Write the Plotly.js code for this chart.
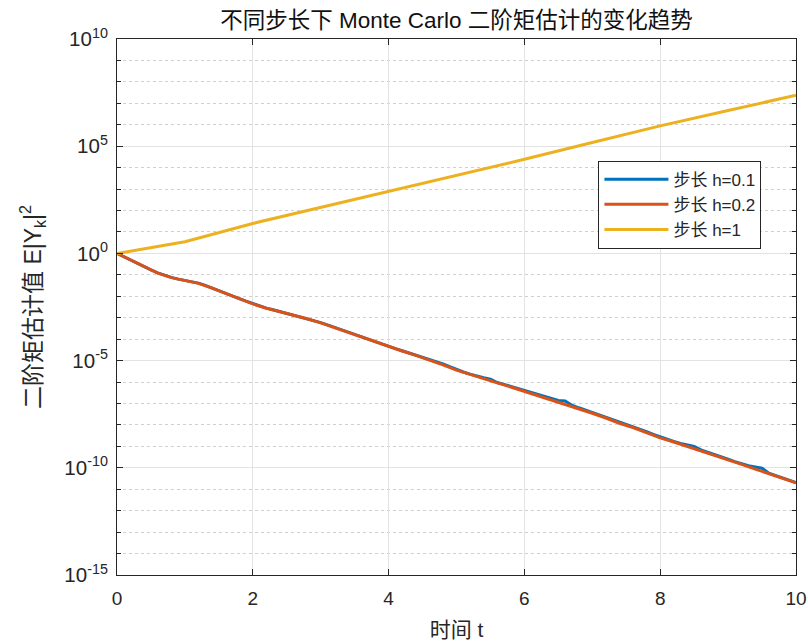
<!DOCTYPE html>
<html>
<head>
<meta charset="utf-8">
<script src="https://cdn.plot.ly/plotly-3.0.1.min.js"></script>
<style>html,body{margin:0;padding:0;background:#fff;}#chart{width:808px;height:642px;}</style>
</head>
<body>
<div id="chart"></div>
<script>
// time grids
const t01 = [0,0.1,0.2,0.3,0.4,0.5,0.6,0.7,0.8,0.9,1,1.1,1.2,1.3,1.4,1.5,1.6,1.7,1.8,1.9,2,2.1,2.2,2.3,2.4,2.5,2.6,2.7,2.8,2.9,3,3.1,3.2,3.3,3.4,3.5,3.6,3.7,3.8,3.9,4,4.1,4.2,4.3,4.4,4.5,4.6,4.7,4.8,4.9,5,5.1,5.2,5.3,5.4,5.5,5.6,5.7,5.8,5.9,6,6.1,6.2,6.3,6.4,6.5,6.6,6.7,6.8,6.9,7,7.1,7.2,7.3,7.4,7.5,7.6,7.7,7.8,7.9,8,8.1,8.2,8.3,8.4,8.5,8.6,8.7,8.8,8.9,9,9.1,9.2,9.3,9.4,9.5,9.6,9.7,9.8,9.9,10];
const t02 = [0,0.2,0.4,0.6,0.8,1,1.2,1.4,1.6,1.8,2,2.2,2.4,2.6,2.8,3,3.2,3.4,3.6,3.8,4,4.2,4.4,4.6,4.8,5,5.2,5.4,5.6,5.8,6,6.2,6.4,6.6,6.8,7,7.2,7.4,7.6,7.8,8,8.2,8.4,8.6,8.8,9,9.2,9.4,9.6,9.8,10];
const t1 = [0,1,2,3,4,5,6,7,8,9,10];

// estimated second moments E|Y_k|^2
const ey_h01 = [1,6.9e-1,4.8e-1,3.4e-1,2.4e-1,1.7e-1,1.23e-1,9.3e-2,7.6e-2,6.3e-2,5.5e-2,4.8e-2,4.1e-2,3.2e-2,2.45e-2,1.8e-2,1.38e-2,1.02e-2,7.8e-3,5.9e-3,4.5e-3,3.5e-3,2.8e-3,2.35e-3,1.95e-3,1.62e-3,1.35e-3,1.1e-3,9.1e-4,7.4e-4,5.9e-4,4.6e-4,3.55e-4,2.7e-4,2.05e-4,1.58e-4,1.23e-4,9.8e-5,7.8e-5,6.0e-5,4.7e-5,3.6e-5,2.9e-5,2.3e-5,1.82e-5,1.45e-5,1.15e-5,8.9e-6,7.1e-6,5.2e-6,3.8e-6,2.95e-6,2.35e-6,1.86e-6,1.58e-6,1.35e-6,9.5e-7,7.8e-7,6.3e-7,5.0e-7,4.0e-7,3.2e-7,2.5e-7,2.0e-7,1.62e-7,1.38e-7,1.32e-7,8.3e-8,6.3e-8,4.9e-8,3.8e-8,2.95e-8,2.3e-8,1.74e-8,1.32e-8,1.02e-8,8.1e-9,6.3e-9,4.8e-9,3.6e-9,2.75e-9,2.15e-9,1.7e-9,1.38e-9,1.17e-9,1.0e-9,6.8e-10,5.2e-10,4.2e-10,3.2e-10,2.5e-10,1.95e-10,1.55e-10,1.26e-10,1.1e-10,9.5e-11,5.6e-11,4.4e-11,3.4e-11,2.6e-11,2.04e-11];
const ey_h02 = [1,4.8e-1,2.4e-1,1.2e-1,7.4e-2,5.4e-2,4.0e-2,2.4e-2,1.35e-2,7.6e-3,4.4e-3,2.75e-3,1.9e-3,1.32e-3,8.9e-4,5.75e-4,3.47e-4,2.0e-4,1.2e-4,7.6e-5,4.6e-5,2.8e-5,1.74e-5,1.07e-5,6.3e-6,3.6e-6,2.24e-6,1.41e-6,9.1e-7,5.9e-7,3.7e-7,2.3e-7,1.45e-7,9.3e-8,5.6e-8,3.5e-8,2.1e-8,1.2e-8,7.6e-9,4.4e-9,2.5e-9,1.6e-9,1.0e-9,6.3e-10,4.0e-10,2.4e-10,1.45e-10,8.7e-11,5.2e-11,3.2e-11,2.0e-11];
const ey_h1 = [1,3.5,25,138,760,4300,24500,1.48e5,8.9e5,4.6e6,2.4e7];

const names = ['步长 h=0.1','步长 h=0.2','步长 h=1'];
const colors = ['#0072BD','#D95319','#EDB120'];

// y tick labels
const yTickVals = [1e-15,1e-10,1e-5,1,1e5,1e10];
const yTickText = ['10<sup>-15</sup>','10<sup>-10</sup>','10<sup>-5</sup>','10<sup>0</sup>','10<sup>5</sup>','10<sup>10</sup>'];
const yMinorVals = [1e-14,1e-13,1e-12,1e-11,1e-9,1e-8,1e-7,1e-6,1e-4,1e-3,1e-2,1e-1,1e1,1e2,1e3,1e4,1e6,1e7,1e8,1e9];

const FONT = 'Liberation Sans, Arial, Noto Sans CJK SC, sans-serif';
const data = [
  {x:t01, y:ey_h01, name:names[0], mode:'lines', line:{color:colors[0], width:3}},
  {x:t02, y:ey_h02, name:names[1], mode:'lines', line:{color:colors[1], width:3}},
  {x:t1,  y:ey_h1,  name:names[2], mode:'lines', line:{color:colors[2], width:3}}
];

const layout = {
  width:808, height:642,
  margin:{l:117, r:12, t:39, b:67},
  paper_bgcolor:'#fff', plot_bgcolor:'#fff',
  font:{family:FONT, size:18, color:'#262626'},
  showlegend:true,
  title:{text:'不同步长下 Monte Carlo 二阶矩估计的变化趋势', font:{family:FONT, size:22.5, color:'#111'},
         x:0.5, xref:'paper', xanchor:'center', y:1-20/642, yref:'container', yanchor:'middle'},
  xaxis:{
    range:[0,10], dtick:2, tick0:0,
    showline:true, linecolor:'#262626', linewidth:1, mirror:'ticks',
    ticks:'inside', ticklen:6, tickcolor:'#262626',
    showgrid:true, gridcolor:'#e3e3e3', gridwidth:1, zeroline:false,
    tickfont:{size:19, color:'#262626'}, ticklabelstandoff:6,
    title:{text:'时间 t', font:{size:21, color:'#262626'}, standoff:14}
  },
  yaxis:{
    type:'log', range:[-15,10],
    tickmode:'array', tickvals:yTickVals, ticktext:yTickText,
    showline:true, linecolor:'#262626', linewidth:1, mirror:'ticks',
    ticks:'inside', ticklen:6, tickcolor:'#262626',
    showgrid:true, gridcolor:'#e3e3e3', gridwidth:1, zeroline:false,
    tickfont:{size:20.5, color:'#262626'}, ticklabelstandoff:4,
    minor:{tickmode:'array', tickvals:yMinorVals, showgrid:true, gridcolor:'#d0d0d0', griddash:'dot', gridwidth:1, ticks:'inside', ticklen:4, tickcolor:'#262626'},
    title:{text:'二阶矩估计值 E|Y<sub>k</sub>|<sup>2</sup>', font:{size:23, color:'#262626'}, standoff:16}
  },
  legend:{
    x:0.709, y:0.773, xanchor:'left', yanchor:'top',
    bgcolor:'#fff', bordercolor:'#262626', borderwidth:1,
    font:{size:17, color:'#262626'}, itemwidth:64, tracegroupgap:0
  }
};

Plotly.newPlot('chart', data, layout, {displayModeBar:false, staticPlot:true});
</script>
</body>
</html>
